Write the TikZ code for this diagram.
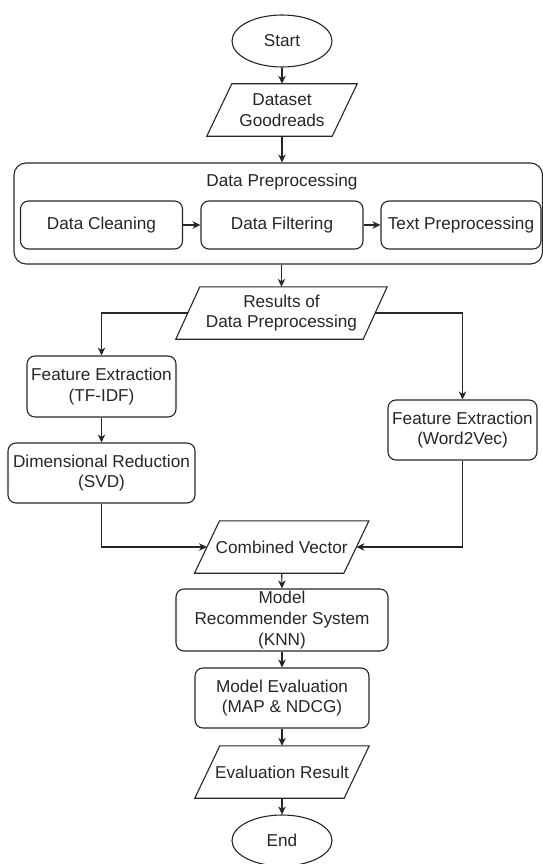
\documentclass[tikz,border=0pt]{standalone}
\usepackage{fontspec}
\setmainfont{Liberation Sans}
\usetikzlibrary{shapes.geometric,arrows.meta,calc}
\newcommand\pgram[2]{\draw[line] ($(#1.north west)+(#2,0)$) -- (#1.north east) -- ($(#1.south east)-(#2,0)$) -- (#1.south west) -- cycle;}
\begin{document}
\begin{tikzpicture}[x=1pt,y=-1pt,
  every node/.style={font=\fontsize{17.2}{20.6}\selectfont, text=black!85, inner sep=0pt},
  line/.style={draw=black!85, line width=1.1pt},
  arr/.style={line, -{Stealth[length=8pt,width=7.5pt,inset=2.5pt]}},
  rbox/.style={line, rounded corners=8pt, align=center},
  term/.style={line, ellipse},
  iobox/.style={align=center}
]
\useasboundingbox (0,0) rectangle (543,864);

\node[term, minimum width=100pt, minimum height=52pt] (start) at (282,41) {Start};
\node[iobox, minimum width=150pt, minimum height=52pt] (ds) at (282,110) {Dataset\\Goodreads};
\pgram{ds}{25}

\node[rbox, rounded corners=12pt, minimum width=528.5pt, minimum height=101pt] (pre) at (278.25,213.5) {};
\node (pret) at (282,182) {Data Preprocessing};
\node[rbox, minimum width=162pt, minimum height=48pt] (dc) at (101.5,225) {Data Cleaning};
\node[rbox, minimum width=162pt, minimum height=48pt] (df) at (282,225) {Data Filtering};
\node[rbox, minimum width=160pt, minimum height=48pt] (tp) at (461,225) {Text Preprocessing};

\node[iobox, minimum width=211pt, minimum height=52pt] (res) at (281.5,313) {Results of\\Data Preprocessing};
\pgram{res}{24}

\node[rbox, minimum width=149pt, minimum height=61pt] (tf) at (101.5,386.5) {Feature Extraction\\(TF-IDF)};
\node[rbox, minimum width=187pt, minimum height=60pt] (svd) at (101.5,473) {Dimensional Reduction\\(SVD)};
\node[rbox, minimum width=149pt, minimum height=60pt] (w2v) at (462.5,430) {Feature Extraction\\(Word2Vec)};

\node[iobox, minimum width=174pt, minimum height=52pt] (cv) at (281.7,547) {Combined Vector};
\pgram{cv}{25}

\node[rbox, minimum width=212pt, minimum height=62pt] (knn) at (282,620) {Model\\Recommender System\\(KNN)};
\node[rbox, minimum width=174pt, minimum height=60pt] (ev) at (282,698) {Model Evaluation\\(MAP \& NDCG)};
\node[iobox, minimum width=174pt, minimum height=52pt] (er) at (282,772) {Evaluation Result};
\pgram{er}{25}
\node[term, minimum width=100pt, minimum height=51pt] (end) at (282,840.5) {End};

\draw[arr] (start.south) -- (ds.north);
\draw[arr] (ds.south) -- (ds.south |- pre.north);
\draw[arr] (dc) -- (df);
\draw[arr] (df) -- (tp);
\draw[arr] (pre.south -| res.north) -- (res.north);
\draw[arr] ($(res.west)+(12,0)$) -| (tf.north);
\draw[arr] ($(res.east)-(12,0)$) -| (w2v.north);
\draw[arr] (tf) -- (svd);
\draw[arr] (svd.south) |- ($(cv.west)+(12.5,0)$);
\draw[arr] (w2v.south) |- ($(cv.east)-(12.5,0)$);
\draw[arr] (cv.south) -- (knn.north);
\draw[arr] (knn) -- (ev);
\draw[arr] (ev) -- (er);
\draw[arr] (er.south) -- (end.north);
\end{tikzpicture}
\end{document}
